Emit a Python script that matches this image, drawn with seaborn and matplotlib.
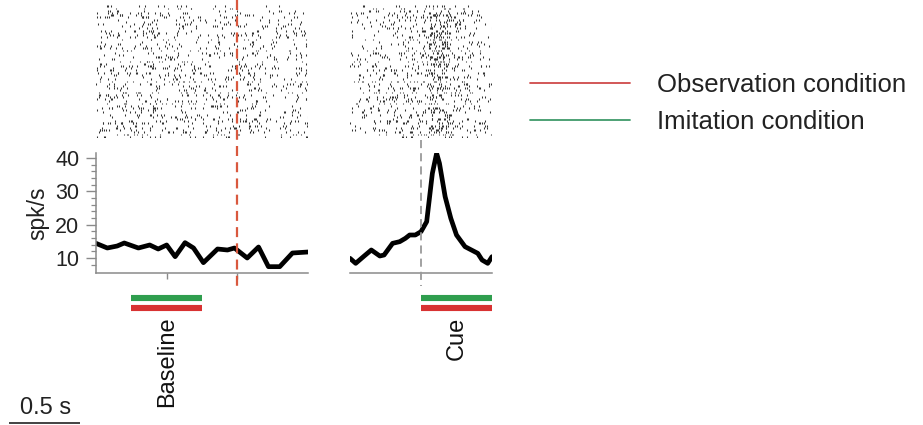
import numpy as np
import matplotlib
matplotlib.use("Agg")
import matplotlib.pyplot as plt
import seaborn as sns
from matplotlib.lines import Line2D
from matplotlib.transforms import blended_transform_factory

sns.set_theme(style="white")
plt.rcParams["font.family"] = ["Liberation Sans", "DejaVu Sans"]

# Firing rate (spk/s) around the baseline epoch, aligned on the movement go signal
baseline_t = [-1.00, -0.92, -0.85, -0.80, -0.70, -0.62, -0.56, -0.50, -0.44, -0.37, -0.31,
              -0.24, -0.14, -0.07, -0.02, 0.07, 0.15, 0.22, 0.30, 0.39, 0.50]
baseline_rate = [14.4, 13.0, 13.6, 14.5, 13.0, 13.9, 12.7, 13.9, 10.4, 14.6, 13.0,
                 8.6, 12.7, 12.4, 13.0, 10.0, 13.3, 7.4, 7.4, 11.5, 11.8]

# Firing rate (spk/s) aligned on cue onset
cue_t = [-0.50, -0.46, -0.40, -0.35, -0.29, -0.26, -0.20, -0.15, -0.11, -0.08, -0.04, 0.00,
         0.04, 0.08, 0.11, 0.13, 0.17, 0.21, 0.25, 0.31, 0.40, 0.43, 0.47, 0.50]
cue_rate = [9.9, 8.4, 10.6, 12.4, 10.6, 10.9, 14.4, 14.9, 15.9, 16.9, 16.9, 17.9,
            20.9, 35.4, 41.4, 38.4, 28.4, 21.9, 16.9, 13.4, 11.4, 9.4, 8.4, 10.4]

# Analysis epochs (s)
baseline_epoch = [-0.75, -0.25]
cue_epoch = [0.0, 0.5]
epoch_names = ["Baseline", "Cue"]

y_ticks_major = [10, 20, 30, 40]
legend_labels = ["Observation condition", "Imitation condition"]

n_trials = 60
RED = "#d83232"
GREEN = "#2f9e4e"

W, H = 923, 425
fig = plt.figure(figsize=(W / 100, H / 100), dpi=100)


def rect(left, top, right, bottom):
    return [left / W, 1 - bottom / H, (right - left) / W, (bottom - top) / H]


def spike_trains(t, rate, n, rng):
    """Inhomogeneous Poisson trains by thinning the rate curve."""
    t = np.asarray(t)
    rate = np.asarray(rate)
    rmax = rate.max()
    dur = t[-1] - t[0]
    trains = []
    for _ in range(n):
        k = rng.poisson(rmax * dur)
        cand = np.sort(rng.uniform(t[0], t[-1], k))
        keep = rng.uniform(0, rmax, k) < np.interp(cand, t, rate)
        trains.append(cand[keep])
    return trains


rng = np.random.default_rng(7)

panels = [
    dict(t=baseline_t, r=baseline_rate, xlim=(-1.0, 0.5), px=(96, 308), epoch=baseline_epoch,
         name=epoch_names[0]),
    dict(t=cue_t, r=cue_rate, xlim=(-0.5, 0.5), px=(350, 492), epoch=cue_epoch,
         name=epoch_names[1]),
]

psth_axes = []
for i, p in enumerate(panels):
    x0, x1 = p["px"]
    # raster
    axr = fig.add_axes(rect(x0, 5, x1, 138))
    trains = spike_trains(p["t"], p["r"], n_trials, rng)
    axr.eventplot(trains, colors="#333333", linelengths=0.85, linewidths=0.75)
    axr.set_xlim(*p["xlim"])
    axr.set_ylim(-0.6, n_trials - 0.4)
    axr.axis("off")

    # PSTH
    ax = fig.add_axes(rect(x0, 153, x1, 273))
    df = {"t": p["t"], "rate": p["r"]}
    sns.lineplot(x="t", y="rate", data=df, ax=ax, color="black", lw=3.4,
                 solid_joinstyle="round", solid_capstyle="round")
    ax.set_xlim(*p["xlim"])
    ax.set_ylim(5.5, 41.5)
    ax.set_xlabel("")
    ax.set_ylabel("")
    for s in ["top", "right"]:
        ax.spines[s].set_visible(False)
    ax.spines["bottom"].set_color("#8a8a8a")
    ax.spines["bottom"].set_linewidth(1.1)
    ax.patch.set_alpha(0)
    if i == 0:
        ax.spines["left"].set_color("#8a8a8a")
        ax.spines["left"].set_linewidth(1.1)
        ax.set_yticks(y_ticks_major)
        ax.set_yticks(np.arange(8, 41, 2), minor=True)
        ax.tick_params(axis="y", which="major", length=7, width=1.0, color="#8a8a8a",
                       labelsize=15.5, pad=5, labelcolor="#222222", left=True)
        ax.tick_params(axis="y", which="minor", length=3.5, width=0.9, color="#8a8a8a", left=True)
        ax.set_xticks([-0.5, 0.0])
        ax.tick_params(axis="x", length=4.5, width=1.0, color="#8a8a8a", labelbottom=False,
                       bottom=True)
        ax.set_ylabel("spk/s", fontsize=16.5, color="#222222", labelpad=4)
    else:
        ax.spines["left"].set_visible(False)
        ax.set_yticks([])
        ax.set_xticks([])
    psth_axes.append(ax)

    # epoch bars
    axb = fig.add_axes(rect(x0, 290, x1, 316))
    axb.set_xlim(*p["xlim"])
    axb.set_ylim(0, 1)
    axb.axis("off")
    e0, e1 = p["epoch"]
    axb.hlines(0.7, e0, e1, color=GREEN, lw=4.4)
    axb.hlines(0.3, e0, e1, color=RED, lw=4.4)
    axb.text((e0 + e1) / 2, -0.02, p["name"], rotation=90, ha="center", va="top",
             fontsize=17, color="#111111")

# alignment markers spanning raster, PSTH and epoch area
ax0, ax1 = psth_axes
tr0 = blended_transform_factory(ax0.transData, fig.transFigure)
fig.add_artist(Line2D([0.0, 0.0], [1 - 0 / H, 1 - 291 / H], transform=tr0, color="#d9583e",
                      lw=1.6, linestyle=(0, (4.5, 2.8))))
tr1 = blended_transform_factory(ax1.transData, fig.transFigure)
fig.add_artist(Line2D([0.0, 0.0], [1 - 140 / H, 1 - 286 / H], transform=tr1, color="#9a9a9a",
                      lw=1.3, linestyle=(0, (4.5, 2.8))))

# scale bar: 0.5 s at the same time scale as the panels
axs = fig.add_axes(rect(0, 395, 141, 425))
axs.set_xlim(-0.065, 0.935)
axs.set_ylim(0, 1)
axs.axis("off")
axs.hlines(0.06, 0.0, 0.5, color="#222222", lw=1.2)
axs.text(0.26, 0.55, "0.5 s", ha="center", va="center", fontsize=17, color="#222222")

# legend
handles = [Line2D([], [], color="#cf4a4a", lw=1.3),
           Line2D([], [], color="#3f9a6a", lw=1.3)]
fig.legend(handles, legend_labels, loc="upper left", bbox_to_anchor=(530 / W, 1 - 73 / H),
           frameon=False, fontsize=18.5, handlelength=3.9, handletextpad=1.05,
           labelspacing=0.5, borderaxespad=0, borderpad=0, labelcolor="#222222")

fig.savefig("out.png", dpi=100)
